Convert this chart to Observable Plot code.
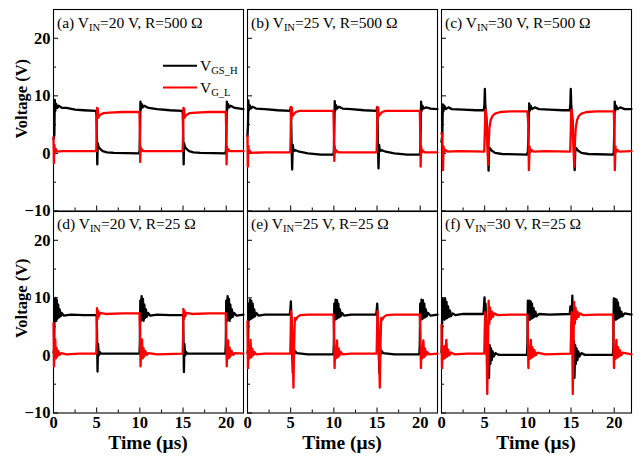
<!DOCTYPE html>
<html><head><meta charset="utf-8">
<script src="https://cdn.jsdelivr.net/npm/d3@7"></script>
<script src="https://cdn.jsdelivr.net/npm/@observablehq/plot@0.6"></script>
<style>
html,body{margin:0;padding:0;background:#fff;}
#chart{position:relative;width:640px;height:457px;overflow:hidden;font-family:'Liberation Serif';}
#chart svg{position:absolute;}
</style></head><body><div id="chart"></div>
<script>
// ---- series: [time (µs), voltage (V)] ----
const aH = [[0,2.5],[0.1,3.2],[0.15,9.3],[0.21,7.4],[0.3,8.6],[0.45,7.9],[0.6,8.3],[1.0,7.9],[1.5,7.9],[2.5,7.6],[3.5,7.5],[4.9,7.4],[4.97,7.0],[5.02,3.0],[5.07,-1.9],[5.12,1.8],[5.2,1.2],[5.4,0.8],[5.7,0.4],[6.2,0.2],[7,0.1],[9.9,0.0],[9.97,0.5],[10.02,4],[10.07,9.0],[10.12,7.6],[10.2,8.6],[10.35,8.0],[10.5,8.3],[11,7.9],[12,7.7],[13.5,7.5],[14.9,7.4],[14.97,7.0],[15.02,3],[15.07,-1.9],[15.12,1.8],[15.2,1.2],[15.4,0.8],[15.7,0.4],[16.2,0.2],[17,0.1],[19.9,0.0],[19.97,0.5],[20.02,4],[20.07,9.0],[20.12,7.6],[20.2,8.6],[20.35,8.0],[20.5,8.3],[21,7.9],[22,7.7]];
const aL = [[0,2.8],[0.05,-1.7],[0.1,1.5],[0.15,0.2],[0.25,0.8],[0.4,0.3],[1,0.4],[3,0.4],[4.95,0.4],[5.0,3],[5.04,7.9],[5.08,6.6],[5.12,7.8],[5.18,6.2],[5.3,6.5],[5.5,6.8],[5.8,7.0],[6.5,7.1],[8,7.2],[9.95,7.2],[10.0,4],[10.04,-1.5],[10.08,1.2],[10.15,0.3],[10.25,0.7],[10.4,0.4],[12,0.4],[14.95,0.4],[15.0,3],[15.04,7.9],[15.08,6.6],[15.12,7.8],[15.18,6.2],[15.3,6.5],[15.5,6.8],[15.8,7.0],[16.5,7.1],[18,7.2],[19.95,7.2],[20.0,4],[20.04,-1.9],[20.08,1.2],[20.15,0.3],[20.25,0.7],[20.4,0.4],[22,0.4]];
const bH = [[0,3.0],[0.06,5],[0.1,9.2],[0.16,7.5],[0.25,8.4],[0.4,7.8],[0.6,8.1],[1,7.8],[2,7.7],[3.5,7.5],[4.95,7.4],[5.0,8.0],[5.05,6.5],[5.1,2],[5.17,-2.8],[5.24,1.5],[5.32,0.4],[5.5,0.6],[6,0.3],[7,0.0],[8.5,-0.2],[9.95,-0.2],[10.0,0.5],[10.05,4],[10.1,9.1],[10.16,7.4],[10.25,8.4],[10.4,7.8],[10.6,8.1],[11,7.8],[12,7.7],[13.5,7.5],[14.95,7.4],[15.0,8.0],[15.05,6.5],[15.1,2],[15.17,-2.6],[15.24,1.5],[15.32,0.4],[15.5,0.6],[16,0.3],[17,0.0],[18.5,-0.2],[19.95,-0.2],[20.0,0.5],[20.05,4],[20.1,9.0],[20.16,7.4],[20.25,8.3],[20.4,7.8],[20.7,8.0],[21.2,7.8],[22,7.7]];
const bL = [[0,3.0],[0.04,-2.3],[0.09,1.3],[0.15,0.1],[0.25,0.5],[0.4,0.1],[2,0.2],[4.95,0.2],[5.0,3],[5.04,8.1],[5.08,6.0],[5.13,8.0],[5.2,6.5],[5.35,6.8],[5.6,7.2],[6,7.4],[8,7.4],[9.95,7.4],[10.0,4],[10.05,-1.3],[10.1,1.3],[10.18,0.1],[10.3,0.5],[10.5,0.2],[12,0.2],[14.95,0.2],[15.0,3],[15.04,8.1],[15.08,6.0],[15.13,8.0],[15.2,6.5],[15.35,6.8],[15.6,7.2],[16,7.4],[18,7.4],[19.95,7.4],[20.0,4],[20.05,-2.3],[20.1,1.3],[20.18,0.1],[20.3,0.5],[20.5,0.2],[22,0.2]];
const cH = [[0,2.0],[0.1,3.2],[0.15,8.5],[0.22,7.3],[0.32,8.3],[0.5,7.7],[0.8,8.0],[1.2,7.7],[2.5,7.6],[4,7.5],[4.9,7.5],[4.97,8.5],[5.02,11.2],[5.07,8.5],[5.15,7.0],[5.25,5.0],[5.35,2.0],[5.45,-3.0],[5.52,1.0],[5.6,0.9],[5.8,0.5],[6.2,0.1],[7,-0.1],[9.9,-0.2],[10.0,0.3],[10.08,3.5],[10.15,8.7],[10.22,7.4],[10.32,8.3],[10.5,7.7],[10.8,8.0],[11.3,7.7],[12.5,7.6],[14,7.5],[14.85,7.5],[14.92,8.5],[14.97,11.2],[15.02,8.5],[15.1,7.0],[15.2,5.0],[15.3,2.0],[15.42,-2.9],[15.5,1.0],[15.6,0.9],[15.8,0.5],[16.2,0.1],[17,-0.1],[19.9,-0.2],[19.95,0.3],[20.0,3.5],[20.06,9.0],[20.12,7.4],[20.22,8.3],[20.4,7.7],[20.7,8.0],[21.2,7.7],[22,7.7]];
const cL = [[0,3.5],[0.1,3.0],[0.17,-2.9],[0.24,1.2],[0.32,0.2],[0.45,0.6],[0.7,0.3],[2,0.4],[4.95,0.3],[5.02,4],[5.06,7.3],[5.12,7.6],[5.2,6.0],[5.3,2],[5.4,-2.0],[5.47,2],[5.55,4.5],[5.7,5.8],[5.9,6.5],[6.2,6.9],[6.8,7.2],[8,7.3],[9.95,7.3],[10.05,5],[10.12,-2.9],[10.2,1.2],[10.28,0.2],[10.4,0.6],[10.7,0.3],[12,0.4],[14.9,0.3],[14.97,4],[15.01,7.3],[15.07,7.6],[15.15,6.0],[15.25,2],[15.38,-2.3],[15.45,2],[15.55,4.5],[15.7,5.8],[15.9,6.5],[16.2,6.9],[16.8,7.2],[18,7.3],[19.95,7.3],[20.0,5],[20.07,-2.9],[20.14,1.2],[20.22,0.2],[20.35,0.6],[20.6,0.3],[22,0.4]];
const dH = [[0,0.5],[0.08,1],[0.12,9.8],[0.18,6.2],[0.25,10.0],[0.32,6.0],[0.39,9.6],[0.46,6.4],[0.54,8.8],[0.62,6.6],[0.72,8.0],[0.82,6.8],[0.95,7.4],[1.2,6.9],[2,7.1],[3.5,7.0],[5.0,7.0],[5.05,3],[5.1,-2.8],[5.16,2.0],[5.24,0.0],[5.35,0.6],[5.5,0.3],[7,0.3],[9.95,0.3],[10.0,2],[10.05,9.5],[10.12,6.0],[10.2,10.3],[10.28,6.2],[10.36,9.8],[10.44,6.0],[10.52,8.8],[10.6,6.5],[10.7,8.0],[10.8,6.7],[10.95,7.4],[11.2,6.9],[12,7.1],[13.5,7.0],[15.0,7.0],[15.05,3],[15.1,-2.9],[15.16,2.0],[15.24,0.0],[15.35,0.6],[15.5,0.3],[17,0.3],[19.9,0.3],[19.95,2],[20.0,9.5],[20.08,6.0],[20.16,10.3],[20.24,6.2],[20.32,9.8],[20.4,6.0],[20.48,8.8],[20.56,6.5],[20.66,8.0],[20.76,6.7],[20.9,7.4],[21.2,6.9],[22,7.1]];
const dL = [[0,5.6],[0.06,-1.9],[0.12,1.0],[0.2,2.8],[0.28,-0.5],[0.36,1.3],[0.44,-0.2],[0.55,0.8],[0.7,0.1],[0.9,0.4],[1.5,0.2],[3,0.3],[4.95,0.3],[5.0,3],[5.04,8.2],[5.1,6.3],[5.16,7.8],[5.25,6.8],[5.4,7.4],[6,7.2],[8,7.3],[9.95,7.3],[10.02,4],[10.08,-1.9],[10.15,0.8],[10.25,2.8],[10.33,-0.5],[10.42,1.3],[10.5,-0.2],[10.62,0.8],[10.8,0.1],[11,0.4],[12,0.2],[14.95,0.3],[15.0,3],[15.04,8.1],[15.1,6.3],[15.16,7.8],[15.25,6.8],[15.4,7.4],[16,7.2],[18,7.3],[19.95,7.3],[20.0,4],[20.06,-1.9],[20.12,0.8],[20.22,2.6],[20.3,-0.5],[20.4,1.3],[20.48,-0.2],[20.6,0.8],[20.8,0.1],[21,0.4],[22,0.3]];
const eH = [[0,0.5],[0.07,1],[0.12,9.0],[0.2,6.2],[0.28,9.7],[0.36,6.3],[0.44,9.5],[0.52,6.5],[0.6,9.0],[0.68,6.6],[0.78,8.0],[0.88,6.8],[1.0,7.4],[1.3,6.9],[2,7.1],[4.9,7.1],[4.97,8],[5.02,9.4],[5.08,6.5],[5.15,2],[5.25,-3.1],[5.32,1.5],[5.4,0.2],[5.5,0.8],[5.7,0.4],[7,0.2],[9.95,0.2],[10.0,2],[10.05,9.0],[10.12,6.2],[10.2,9.7],[10.28,6.3],[10.36,9.6],[10.44,6.5],[10.52,9.0],[10.6,6.6],[10.7,8.0],[10.8,6.8],[10.92,7.4],[11.2,6.9],[12,7.1],[14.9,7.1],[14.97,8],[15.02,9.0],[15.08,6.5],[15.15,2],[15.28,-3.1],[15.35,1.5],[15.42,0.2],[15.52,0.8],[15.7,0.4],[17,0.2],[19.9,0.2],[19.95,2],[20.0,9.0],[20.07,6.2],[20.15,9.7],[20.23,6.3],[20.31,9.6],[20.39,6.5],[20.47,9.0],[20.55,6.6],[20.65,8.0],[20.75,6.8],[20.88,7.4],[21.2,6.9],[22,7.1]];
const eL = [[0,5.9],[0.06,-2.2],[0.14,1.5],[0.25,-0.5],[0.35,2.7],[0.45,-0.3],[0.55,1.2],[0.65,0.0],[0.8,0.6],[1.0,0.2],[2,0.3],[4.95,0.3],[5.0,4],[5.05,7.7],[5.12,6.0],[5.22,2],[5.32,-5.6],[5.4,2],[5.48,6.5],[5.6,6.2],[5.8,6.7],[6.1,7.0],[7,7.1],[9.95,7.1],[10.02,4],[10.08,-2.2],[10.16,1.5],[10.26,-0.5],[10.36,2.6],[10.46,-0.3],[10.56,1.2],[10.66,0.0],[10.8,0.6],[11,0.2],[12,0.3],[14.95,0.3],[15.0,4],[15.05,7.7],[15.12,6.0],[15.22,2],[15.32,-5.6],[15.4,2],[15.48,6.5],[15.6,6.2],[15.8,6.7],[16.1,7.0],[17,7.1],[19.95,7.1],[20.02,4],[20.08,-2.2],[20.16,1.5],[20.26,-0.5],[20.36,2.6],[20.46,-0.3],[20.56,1.2],[20.66,0.0],[20.8,0.6],[21,0.2],[22,0.3]];
const fH = [[0,0.5],[0.05,2],[0.1,9.9],[0.18,6.3],[0.26,9.7],[0.34,6.2],[0.42,9.9],[0.5,6.4],[0.58,9.3],[0.66,6.5],[0.76,8.5],[0.86,6.7],[0.98,7.8],[1.1,6.8],[1.3,7.3],[1.6,7.0],[2.5,7.2],[4.85,7.2],[4.92,8.5],[4.98,10.1],[5.04,7],[5.1,9.0],[5.18,5.0],[5.25,0.0],[5.32,2.5],[5.4,-2.0],[5.5,-3.9],[5.58,1.8],[5.66,-1.5],[5.74,1.2],[5.82,-0.8],[5.92,0.7],[6.05,-0.2],[6.25,0.4],[6.6,0.1],[8,0.1],[9.9,0.1],[9.95,2],[10.0,9.5],[10.08,6.3],[10.16,9.5],[10.24,6.2],[10.32,9.4],[10.4,6.4],[10.48,9.0],[10.56,6.5],[10.66,8.2],[10.76,6.7],[10.88,7.6],[11.0,6.8],[11.3,7.2],[12.5,7.1],[14.85,7.2],[14.92,8.5],[15.0,8.0],[15.08,7],[15.15,10.4],[15.22,5],[15.28,0.0],[15.34,2.5],[15.4,-3.9],[15.48,1.8],[15.56,-1.5],[15.64,1.2],[15.74,-0.8],[15.84,0.7],[15.96,-0.2],[16.2,0.4],[16.6,0.1],[18,0.1],[19.85,0.1],[19.9,2],[19.95,9.9],[20.03,6.3],[20.11,9.8],[20.19,6.2],[20.27,9.7],[20.35,6.4],[20.43,9.2],[20.51,6.5],[20.61,8.3],[20.71,6.7],[20.83,7.6],[20.95,6.8],[21.2,7.3],[22,7.1]];
const fL = [[0,5.3],[0.06,-2.2],[0.14,1.5],[0.24,-0.6],[0.34,1.6],[0.44,-0.4],[0.56,2.7],[0.66,-0.2],[0.78,1.0],[0.9,0.0],[1.1,0.5],[1.5,0.2],[3,0.3],[4.95,0.3],[5.0,4],[5.06,7.5],[5.14,6.0],[5.22,2],[5.3,-6.7],[5.38,2],[5.46,9.5],[5.54,5.5],[5.62,8.3],[5.72,6.3],[5.84,7.6],[5.96,6.7],[6.1,7.3],[6.5,7.0],[8,7.1],[9.95,7.1],[10.0,4],[10.06,-2.2],[10.14,1.5],[10.24,-0.6],[10.34,2.7],[10.44,-0.4],[10.54,1.4],[10.64,-0.2],[10.76,0.9],[10.9,0.0],[11.1,0.5],[12,0.2],[14.95,0.3],[15.0,4],[15.06,7.5],[15.12,5],[15.2,-6.7],[15.28,2],[15.36,9.3],[15.44,5.5],[15.52,8.3],[15.62,6.3],[15.74,7.6],[15.86,6.7],[16.0,7.3],[16.4,7.0],[18,7.1],[19.85,7.1],[19.9,4],[19.97,-2.2],[20.05,1.5],[20.15,-0.6],[20.25,2.7],[20.35,-0.4],[20.45,1.4],[20.55,-0.2],[20.67,0.9],[20.8,0.0],[21,0.5],[22,0.2]];

// ---- labels / ticks ----
const panelLetters = ["a", "b", "c", "d", "e", "f"];
const vinValues = [20, 25, 30, 20, 25, 30];
const rValues = [500, 500, 500, 25, 25, 25];
const seriesNames = [["V", "GS_H"], ["V", "G_L"]];
const seriesColors = ["#000000", "#ff0000"];
const yMajorTicks = [-10, 0, 10, 20];
const yMinorTicks = [-5, 5, 15];
const xMajorTicks = [0, 5, 10, 15, 20];
const xMinorTicks = [2.5, 7.5, 12.5, 17.5];
const xDomain = [0, 22];
const yDomain = [-10, 25];
const yTitle = "Voltage (V)";
const xTitle = "Time (\u03bcs)";

const panels = [[aH, aL], [bH, bL], [cH, cL], [dH, dL], [eH, eL], [fH, fL]];

const colLeft = [53, 247, 441], rowTop = [9, 210.5];
const W = 190, H = 201.5;
const M = {top: 10, right: 10, bottom: 52, left: 56};
const chart = document.getElementById("chart");

panels.forEach((series, i) => {
  const col = i % 3, row = Math.floor(i / 3);
  const marks = [
    Plot.frame({stroke: "#000", strokeWidth: 1.1}),
    Plot.axisY(yMajorTicks, {tickSize: -5, tickFormat: () => "", label: null, strokeWidth: 1}),
    Plot.axisY(yMinorTicks, {tickSize: -3, tickFormat: () => "", label: null, strokeWidth: 1}),
    Plot.axisX(xMajorTicks, {tickSize: -5, tickFormat: () => "", label: null, strokeWidth: 1}),
    Plot.axisX(xMinorTicks, {tickSize: -3, tickFormat: () => "", label: null, strokeWidth: 1})
  ];
  if (col === 0) marks.push(Plot.axisY(yMajorTicks, {tickSize: 0, tickPadding: 3, fontSize: 16.5, fontWeight: "bold", label: null}));
  if (row === 1) marks.push(Plot.axisX(xMajorTicks, {tickSize: 0, tickPadding: 3, fontSize: 16.5, fontWeight: "bold", label: null}));
  series.forEach((s, k) => {
    marks.push(Plot.line(s, {x: d => d[0], y: d => d[1], stroke: seriesColors[k], strokeWidth: 2.3, strokeLinejoin: "round"}));
  });
  const svg = Plot.plot({
    width: W + M.left + M.right,
    height: H + M.top + M.bottom,
    marginTop: M.top, marginRight: M.right, marginBottom: M.bottom, marginLeft: M.left,
    x: {domain: xDomain},
    y: {domain: yDomain},
    marks
  });
  svg.style.position = "absolute";
  svg.style.left = (colLeft[col] - M.left) + "px";
  svg.style.top = (rowTop[row] - M.top) + "px";
  svg.style.maxWidth = "none";
  svg.style.background = "transparent";
  svg.style.overflow = "visible";
  chart.appendChild(svg);
});

// ---- text overlay: panel titles, legend, axis titles ----
const ov = d3.select(chart).append("svg")
  .attr("width", 640).attr("height", 457)
  .style("left", "0px").style("top", "0px");

panels.forEach((_, i) => {
  const col = i % 3, row = Math.floor(i / 3);
  const t = ov.append("text")
    .attr("x", colLeft[col] + 4).attr("y", rowTop[row] + 18.5)
    .attr("font-size", 15.5).attr("fill", "#000");
  t.append("tspan").text(`(${panelLetters[i]}) V`);
  t.append("tspan").attr("font-size", 10.5).attr("dy", 3).text("IN");
  t.append("tspan").attr("dy", -3).text(`=${vinValues[i]} V, R=${rValues[i]} \u03a9`);
});

// legend in panel (a)
seriesNames.forEach((nm, k) => {
  const y = rowTop[0] + 56.7 + k * 21.8;
  ov.append("line").attr("x1", colLeft[0] + 110).attr("x2", colLeft[0] + 144)
    .attr("y1", y).attr("y2", y).attr("stroke", seriesColors[k]).attr("stroke-width", 2);
  const t = ov.append("text").attr("x", colLeft[0] + 147).attr("y", y + 5.5)
    .attr("font-size", 15.5).attr("fill", "#000");
  t.append("tspan").text(nm[0]);
  t.append("tspan").attr("font-size", 10.5).attr("dy", 3).text(nm[1]);
});

// axis titles
rowTop.forEach((top, r) => {
  ov.append("text")
    .attr("transform", `translate(${27},${top + H / 2 - (r === 0 ? 11 : 13)}) rotate(-90)`)
    .attr("text-anchor", "middle").attr("font-size", 16.5).attr("font-weight", "bold")
    .attr("fill", "#000").text(yTitle);
});
colLeft.forEach((left) => {
  ov.append("text")
    .attr("x", left + W / 2).attr("y", 449)
    .attr("text-anchor", "middle").attr("font-size", 19.5).attr("font-weight", "bold")
    .attr("fill", "#000").text(xTitle);
});

// serif font everywhere (inline style wins over Plot's attributes)
d3.select(chart).selectAll("svg").style("font-family", "'Liberation Serif'");
d3.select(chart).selectAll("text").style("font-family", "'Liberation Serif'");
</script></body></html>
